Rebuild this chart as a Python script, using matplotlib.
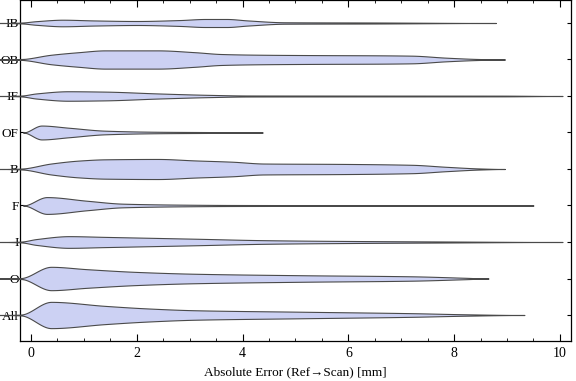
import numpy as np
import matplotlib.pyplot as plt
from matplotlib.ticker import MultipleLocator

plt.rcParams['font.family'] = ['Liberation Serif', 'DejaVu Serif']

# categories from top to bottom
categories = ['IB', 'OB', 'IF', 'OF', 'B', 'F', 'I', 'O', 'All']

# violin profiles: error value [mm] and half width (in category units)
ib_x = [-0.6, -0.2, 0.1, 0.6, 1.2, 2.0, 2.8, 3.3, 3.7, 4.1, 4.8, 6.5, 8.79]
ib_w = [0.0, 0.01, 0.05, 0.09, 0.07, 0.055, 0.08, 0.11, 0.11, 0.07, 0.02, 0.014, 0.0]

ob_x = [-0.6, -0.2, 0.38, 0.9, 1.4, 2.4, 3.1, 3.6, 4.4, 5.5, 6.5, 7.2, 7.85, 8.5, 8.96]
ob_w = [0.0, 0.01, 0.13, 0.2, 0.25, 0.25, 0.2, 0.15, 0.13, 0.12, 0.115, 0.105, 0.05, 0.012, 0.0]

if_x = [-0.6, -0.2, 0.1, 0.7, 1.4, 2.4, 3.4, 4.1, 6.0, 8.9, 10.05]
if_w = [0.0, 0.01, 0.07, 0.13, 0.12, 0.07, 0.03, 0.014, 0.012, 0.01, 0.0]

of_x = [-0.15, 0.2, 0.72, 1.4, 2.4, 3.6, 4.38]
of_w = [0.0, 0.19, 0.13, 0.05, 0.02, 0.01, 0.0]

b_x = [-0.6, -0.2, 0.38, 0.9, 1.4, 2.4, 3.1, 3.8, 4.4, 5.8, 7.2, 7.85, 8.5, 8.96]
b_w = [0.0, 0.01, 0.15, 0.23, 0.265, 0.275, 0.235, 0.2, 0.15, 0.14, 0.115, 0.06, 0.014, 0.0]

f_x = [-0.15, 0.3, 1.06, 1.74, 3.1, 3.8, 6.0, 9.5]
f_w = [0.0, 0.23, 0.13, 0.05, 0.02, 0.014, 0.01, 0.0]

i_x = [-0.6, -0.2, 0.1, 0.72, 1.4, 3.1, 4.4, 5.8, 7.85, 10.05]
i_w = [0.0, 0.01, 0.08, 0.16, 0.14, 0.09, 0.05, 0.03, 0.014, 0.0]

o_x = [-0.6, -0.2, 0.38, 1.06, 2.0, 3.1, 5.1, 7.2, 8.2, 8.65]
o_w = [0.0, 0.01, 0.32, 0.255, 0.18, 0.13, 0.09, 0.06, 0.02, 0.0]

all_x = [-0.6, -0.2, 0.38, 1.4, 2.2, 3.1, 5.1, 7.2, 8.2, 9.33]
all_w = [0.0, 0.01, 0.36, 0.25, 0.18, 0.13, 0.09, 0.05, 0.02, 0.0]

profiles = [(ib_x, ib_w), (ob_x, ob_w), (if_x, if_w), (of_x, of_w), (b_x, b_w),
            (f_x, f_w), (i_x, i_w), (o_x, o_w), (all_x, all_w)]


def smooth_outline(xs, ws, per_seg=20):
    # monotone cubic (pchip-like) curve through the read points, only for drawing
    xs = np.asarray(xs, float)
    ws = np.asarray(ws, float)
    h = np.diff(xs)
    d = np.diff(ws) / h
    m = np.zeros_like(ws)
    for i in range(1, len(xs) - 1):
        if d[i - 1] * d[i] > 0:
            w1 = 2 * h[i] + h[i - 1]
            w2 = h[i] + 2 * h[i - 1]
            m[i] = (w1 + w2) / (w1 / d[i - 1] + w2 / d[i])
    xo, wo = [], []
    for i in range(len(xs) - 1):
        t = np.linspace(0, 1, per_seg, endpoint=False)
        h00 = 2*t**3 - 3*t**2 + 1
        h10 = t**3 - 2*t**2 + t
        h01 = -2*t**3 + 3*t**2
        h11 = t**3 - t**2
        xo.append(xs[i] + t * h[i])
        wo.append(h00*ws[i] + h10*h[i]*m[i] + h01*ws[i+1] + h11*h[i]*m[i+1])
    xo.append([xs[-1]])
    wo.append([ws[-1]])
    return np.concatenate(xo), np.concatenate(wo)


fig = plt.figure(figsize=(5.76, 3.81), dpi=100)
ax = fig.add_axes([20/576, 40/381, 551/576, 341/381])

n = len(categories)
for k, (xs, ws) in enumerate(profiles):
    yc = n - k
    sx, sw = smooth_outline(xs, ws)
    ax.fill_between(sx, yc - sw, yc + sw, facecolor='#ccd1f3', edgecolor='#4a4a4a',
                    linewidth=0.8, clip_on=False, zorder=3)

ax.set_xlim(-0.208, 10.21)
ax.set_ylim(1 - 26/36.5, n + 23/36.5)
ax.set_yticks(range(n, 0, -1))
ax.set_yticklabels(categories)

ax.xaxis.set_major_locator(MultipleLocator(2))
ax.xaxis.set_minor_locator(MultipleLocator(0.5))
ax.tick_params(axis='x', which='major', direction='in', length=5, width=0.8,
               top=True, labelsize=10, pad=4)
ax.tick_params(axis='x', which='minor', direction='in', length=2.5, width=0.6, top=True)
ax.tick_params(axis='y', which='major', direction='in', length=3, width=0.8,
               right=True, labelsize=9.5, pad=1)

for s in ax.spines.values():
    s.set_linewidth(0.9)

ax.set_xlabel('Absolute Error (Ref\u2192Scan) [mm]', fontsize=9.5, labelpad=5)

fig.savefig('out.png', dpi=100)
